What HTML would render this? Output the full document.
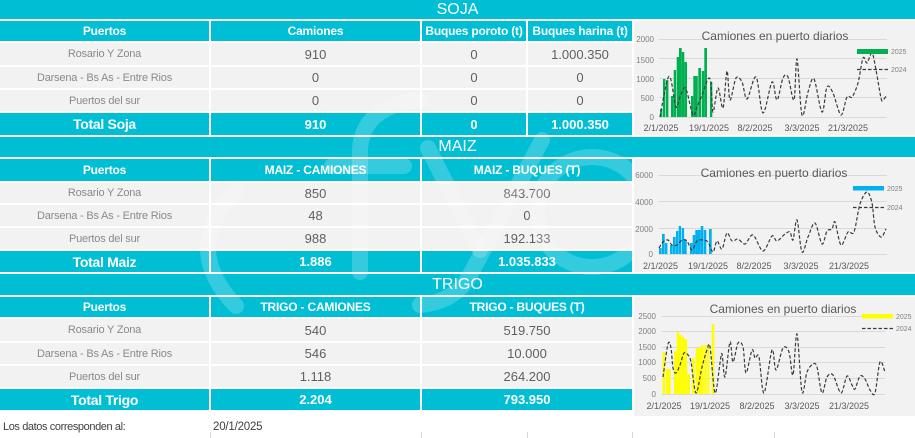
<!DOCTYPE html>
<html><head><meta charset="utf-8">
<style>
*{margin:0;padding:0;box-sizing:border-box}
body{width:915px;height:438px;background:#fff;overflow:hidden}
#p{position:relative;width:915px;height:438px;background:#fff;overflow:hidden;font-family:"Liberation Sans",Arial,sans-serif}
.c{position:absolute;display:flex;align-items:center;justify-content:center;white-space:nowrap}
.t{background:#00bfd5;color:#fff;font-size:16px;left:0;width:915px}
.h{background:#00bfd5;color:#fff;font-size:12px;font-weight:bold;letter-spacing:-0.2px}
.g{background:#f2f2f2;color:#8a8a8a;font-size:11px;letter-spacing:-0.2px}
.n{background:#f2f2f2;color:#5f5f5f;font-size:13px}
.tt{background:#00bfd5;color:#fff;font-size:14px;font-weight:bold;letter-spacing:-0.3px}
.tn{background:#00bfd5;color:#fff;font-size:13px;font-weight:bold}
svg{position:absolute;left:0;top:0}
</style></head><body>
<div id="p">
<!-- SOJA -->
<div class="c t" style="top:0;height:19px">SOJA</div>
<div class="c h" style="top:21px;height:20px;left:0;width:209px">Puertos</div>
<div class="c h" style="top:21px;height:20px;left:211px;width:209px">Camiones</div>
<div class="c h" style="top:21px;height:20px;left:422px;width:104px">Buques poroto (t)</div>
<div class="c h" style="top:21px;height:20px;left:528px;width:104px">Buques harina (t)</div>

<div class="c g" style="top:43px;height:22px;left:0;width:209px">Rosario Y Zona</div>
<div class="c n" style="top:43px;height:22px;left:211px;width:209px">910</div>
<div class="c n" style="top:43px;height:22px;left:422px;width:104px">0</div>
<div class="c n" style="top:43px;height:22px;left:528px;width:104px">1.000.350</div>

<div class="c g" style="top:67px;height:21px;left:0;width:209px">Darsena - Bs As - Entre Rios</div>
<div class="c n" style="top:67px;height:21px;left:211px;width:209px">0</div>
<div class="c n" style="top:67px;height:21px;left:422px;width:104px">0</div>
<div class="c n" style="top:67px;height:21px;left:528px;width:104px">0</div>

<div class="c g" style="top:90px;height:21px;left:0;width:209px">Puertos del sur</div>
<div class="c n" style="top:90px;height:21px;left:211px;width:209px">0</div>
<div class="c n" style="top:90px;height:21px;left:422px;width:104px">0</div>
<div class="c n" style="top:90px;height:21px;left:528px;width:104px">0</div>

<div class="c tt" style="top:113px;height:22px;left:0;width:209px">Total Soja</div>
<div class="c tn" style="top:113px;height:22px;left:211px;width:209px">910</div>
<div class="c tn" style="top:113px;height:22px;left:422px;width:104px">0</div>
<div class="c tn" style="top:113px;height:22px;left:528px;width:104px">1.000.350</div>

<!-- MAIZ -->
<div class="c t" style="top:137px;height:20px">MAIZ</div>
<div class="c h" style="top:159px;height:22px;left:0;width:209px">Puertos</div>
<div class="c h" style="top:159px;height:22px;left:211px;width:209px">MAIZ - CAMIONES</div>
<div class="c h" style="top:159px;height:22px;left:422px;width:210px">MAIZ - BUQUES (T)</div>

<div class="c g" style="top:183px;height:20px;left:0;width:209px">Rosario Y Zona</div>
<div class="c n" style="top:183px;height:20px;left:211px;width:209px">850</div>
<div class="c n" style="top:183px;height:20px;left:422px;width:210px">843.700</div>

<div class="c g" style="top:205px;height:21px;left:0;width:209px">Darsena - Bs As - Entre Rios</div>
<div class="c n" style="top:205px;height:21px;left:211px;width:209px">48</div>
<div class="c n" style="top:205px;height:21px;left:422px;width:210px">0</div>

<div class="c g" style="top:228px;height:21px;left:0;width:209px">Puertos del sur</div>
<div class="c n" style="top:228px;height:21px;left:211px;width:209px">988</div>
<div class="c n" style="top:228px;height:21px;left:422px;width:210px">192.133</div>

<div class="c tt" style="top:251px;height:21px;left:0;width:209px">Total Maiz</div>
<div class="c tn" style="top:251px;height:21px;left:211px;width:209px">1.886</div>
<div class="c tn" style="top:251px;height:21px;left:422px;width:210px">1.035.833</div>

<!-- TRIGO -->
<div class="c t" style="top:274px;height:21px">TRIGO</div>
<div class="c h" style="top:297px;height:20px;left:0;width:209px">Puertos</div>
<div class="c h" style="top:297px;height:20px;left:211px;width:209px">TRIGO - CAMIONES</div>
<div class="c h" style="top:297px;height:20px;left:422px;width:210px">TRIGO - BUQUES (T)</div>

<div class="c g" style="top:319px;height:22px;left:0;width:209px">Rosario Y Zona</div>
<div class="c n" style="top:319px;height:22px;left:211px;width:209px">540</div>
<div class="c n" style="top:319px;height:22px;left:422px;width:210px">519.750</div>

<div class="c g" style="top:343px;height:21px;left:0;width:209px">Darsena - Bs As - Entre Rios</div>
<div class="c n" style="top:343px;height:21px;left:211px;width:209px">546</div>
<div class="c n" style="top:343px;height:21px;left:422px;width:210px">10.000</div>

<div class="c g" style="top:366px;height:21px;left:0;width:209px">Puertos del sur</div>
<div class="c n" style="top:366px;height:21px;left:211px;width:209px">1.118</div>
<div class="c n" style="top:366px;height:21px;left:422px;width:210px">264.200</div>

<div class="c tt" style="top:389px;height:21px;left:0;width:209px">Total Trigo</div>
<div class="c tn" style="top:389px;height:21px;left:211px;width:209px">2.204</div>
<div class="c tn" style="top:389px;height:21px;left:422px;width:210px">793.950</div>

<div class="c" style="top:418px;height:18px;left:3px;justify-content:flex-start;font-size:11px;color:#404040;letter-spacing:-0.4px">Los datos corresponden al:</div>
<div class="c" style="top:418px;height:18px;left:213px;justify-content:flex-start;font-size:11.5px;color:#404040;letter-spacing:-0.2px">20/1/2025</div>

<svg width="915" height="438" viewBox="0 0 915 438" xmlns="http://www.w3.org/2000/svg" font-family="Liberation Sans, Arial, sans-serif">
  <defs>
    <clipPath id="wm"><rect x="0" y="0" width="632" height="411"/></clipPath>
  </defs>
  <!-- watermark -->
  <g clip-path="url(#wm)" fill="none" stroke="#fff" stroke-opacity="0.2" stroke-width="16" stroke-linecap="round">
    <path d="M236 190 Q180 248 236 306"/>
    <path d="M360 272 L360 150 Q362 106 420 100"/>
    <path d="M332 166 L404 166"/>
    <path d="M428 148 L480 250"/>
    <path d="M542 140 L470 275 Q455 302 420 305"/>
    <circle cx="592" cy="212" r="55"/>
  </g>

  <!-- bottom faint grid marks -->
  <g stroke="#d8d8d8" stroke-width="1">
    <line x1="210.5" y1="432" x2="210.5" y2="438"/>
    <line x1="421.5" y1="432" x2="421.5" y2="438"/>
    <line x1="527.5" y1="432" x2="527.5" y2="438"/>
    <line x1="632.5" y1="432" x2="632.5" y2="438"/>
    <line x1="774.5" y1="432" x2="774.5" y2="438"/>
  </g>

  <!-- ===== SOJA CHART ===== -->
  <rect x="634" y="21" width="281" height="114" fill="#f2f2f2"/>
  <g stroke="#d9d9d9" stroke-width="1">
    <line x1="659" y1="39.5" x2="887" y2="39.5"/>
    <line x1="659" y1="58.5" x2="887" y2="58.5"/>
    <line x1="659" y1="78.5" x2="887" y2="78.5"/>
    <line x1="659" y1="97.5" x2="887" y2="97.5"/>
    <line x1="659" y1="117.5" x2="887" y2="117.5"/>
  </g>
  <text x="775" y="40" font-size="12" fill="#595959" text-anchor="middle">Camiones en puerto diarios</text>
  <g font-size="8" fill="#808080" text-anchor="end">
    <text x="654" y="42">2000</text>
    <text x="654" y="63">1500</text>
    <text x="654" y="82">1000</text>
    <text x="654" y="101">500</text>
    <text x="654" y="120">0</text>
  </g>
  <g font-size="9" fill="#595959" text-anchor="middle">
    <text x="661" y="131">2/1/2025</text>
    <text x="709" y="131">19/1/2025</text>
    <text x="755" y="131">8/2/2025</text>
    <text x="802" y="131">3/3/2025</text>
    <text x="848" y="131">21/3/2025</text>
  </g>
  <g fill="#00b050">
    <rect x="660" y="109" width="2.4" height="8"/>
    <rect x="663" y="79" width="2.4" height="38"/>
    <rect x="666" y="80" width="2.4" height="37"/>
    <rect x="671" y="96" width="2.7" height="21"/>
    <rect x="673.7" y="70" width="2.4" height="47"/>
    <rect x="676.7" y="57" width="2.4" height="60"/>
    <rect x="679" y="48" width="2.7" height="69"/>
    <rect x="681.7" y="52" width="2.6" height="65"/>
    <rect x="684.3" y="62" width="2.7" height="55"/>
    <rect x="691" y="96" width="2.3" height="21"/>
    <rect x="693.3" y="76" width="4.5" height="41"/>
    <rect x="698.3" y="68" width="2.7" height="49"/>
    <rect x="701.7" y="71" width="2.6" height="46"/>
    <rect x="704.3" y="48" width="2.7" height="69"/>
    <rect x="710" y="82" width="2.3" height="35"/>
  </g>
  <path class="ln" data-p="660,117 664,95 668,78 671,80 676,107 680,97 684,88 687,92 693,115 697,107 702,95 708,79 711,83 713,112 718,88 723,108 727,71 730,100 736,78 742,82 747,99 756,77 763,113 772,82 777,100 783,78 788,77 794,100 797,59 802,115 808,92 814,79 822,112 827,87 833,93 841,115 847,97 852,97 858,83 863,58 867,63 872,53 876,70 881,98 883,100 887,95" fill="none" stroke="#3a3a3a" stroke-width="1.2" stroke-dasharray="3.5 2"/>
  <rect x="857" y="49" width="31" height="5" fill="#00b050"/>
  <line x1="857" y1="69.5" x2="888" y2="69.5" stroke="#3a3a3a" stroke-width="1.2" stroke-dasharray="3.5 2"/>
  <g font-size="7" fill="#808080">
    <text x="891" y="54">2025</text>
    <text x="891" y="72">2024</text>
  </g>

  <!-- ===== MAIZ CHART ===== -->
  <rect x="634" y="159" width="281" height="113" fill="#f2f2f2"/>
  <g stroke="#d9d9d9" stroke-width="1">
    <line x1="659" y1="175.5" x2="887" y2="175.5"/>
    <line x1="659" y1="201.5" x2="887" y2="201.5"/>
    <line x1="659" y1="228.5" x2="887" y2="228.5"/>
    <line x1="659" y1="254.5" x2="887" y2="254.5"/>
  </g>
  <text x="774" y="177" font-size="12" fill="#595959" text-anchor="middle">Camiones en puerto diarios</text>
  <g font-size="8" fill="#808080" text-anchor="end">
    <text x="653" y="178">6000</text>
    <text x="653" y="205">4000</text>
    <text x="653" y="232">2000</text>
    <text x="653" y="257">0</text>
  </g>
  <g font-size="9" fill="#595959" text-anchor="middle">
    <text x="660.5" y="269">2/1/2025</text>
    <text x="708" y="269">19/1/2025</text>
    <text x="754" y="269">8/2/2025</text>
    <text x="801" y="269">3/3/2025</text>
    <text x="849" y="269">21/3/2025</text>
  </g>
  <g fill="#00b0f0">
    <rect x="659" y="248" width="2.7" height="6"/>
    <rect x="662" y="234" width="2.7" height="20"/>
    <rect x="665" y="243" width="2.4" height="11"/>
    <rect x="670" y="245" width="2.7" height="9"/>
    <rect x="673" y="237" width="2.7" height="17"/>
    <rect x="676" y="231" width="2.4" height="23"/>
    <rect x="678.7" y="226" width="2.4" height="28"/>
    <rect x="681.7" y="228" width="2.4" height="26"/>
    <rect x="684" y="240" width="2.7" height="14"/>
    <rect x="690" y="243" width="2.7" height="11"/>
    <rect x="692.7" y="235" width="2.6" height="19"/>
    <rect x="695.3" y="230" width="5.4" height="24"/>
    <rect x="700.7" y="226" width="2.6" height="28"/>
    <rect x="703.7" y="230" width="2.6" height="24"/>
    <rect x="709" y="229" width="2.7" height="25"/>
  </g>
  <path class="ln" data-p="659,248 663,242 668,240 672,245 677,245 682,240 687,241 692,250 697,241 703,240 708,242 713,252 717,241 722,249 727,233 732,241 738,239 745,244 753,235 763,251 772,236 777,241 785,234 790,232 793,240 797,220 802,252 808,237 815,223 822,244 827,231 832,229 835,222 841,245 848,232 854,232 860,204 867,192 872,203 875,227 881,237 886,229" fill="none" stroke="#3a3a3a" stroke-width="1.2" stroke-dasharray="3.5 2"/>
  <rect x="853" y="186" width="31" height="4.5" fill="#00b0f0"/>
  <line x1="853" y1="207.5" x2="884" y2="207.5" stroke="#3a3a3a" stroke-width="1.2" stroke-dasharray="3.5 2"/>
  <g font-size="7" fill="#808080">
    <text x="887" y="191">2025</text>
    <text x="887" y="210">2024</text>
  </g>

  <!-- ===== TRIGO CHART ===== -->
  <rect x="634" y="297" width="281" height="119" fill="#f2f2f2"/>
  <g stroke="#d9d9d9" stroke-width="1">
    <line x1="662" y1="316.5" x2="885" y2="316.5"/>
    <line x1="662" y1="331.5" x2="885" y2="331.5"/>
    <line x1="662" y1="347.5" x2="885" y2="347.5"/>
    <line x1="662" y1="362.5" x2="885" y2="362.5"/>
    <line x1="662" y1="378.5" x2="885" y2="378.5"/>
    <line x1="662" y1="394.5" x2="885" y2="394.5"/>
  </g>
  <text x="783" y="313" font-size="12" fill="#595959" text-anchor="middle">Camiones en puerto diarios</text>
  <g font-size="8" fill="#808080" text-anchor="end">
    <text x="656" y="319">2500</text>
    <text x="656" y="334">2000</text>
    <text x="656" y="350">1500</text>
    <text x="656" y="365">1000</text>
    <text x="656" y="381">500</text>
    <text x="656" y="397">0</text>
  </g>
  <g font-size="9" fill="#595959" text-anchor="middle">
    <text x="664" y="409">2/1/2025</text>
    <text x="710" y="409">19/1/2025</text>
    <text x="757" y="409">8/2/2025</text>
    <text x="802" y="409">3/3/2025</text>
    <text x="849" y="409">21/3/2025</text>
  </g>
  <g fill="#ffff00">
    <rect x="662.5" y="352" width="2.6" height="42"/>
    <rect x="666" y="369" width="4.7" height="25"/>
    <rect x="674" y="351" width="2.7" height="43"/>
    <rect x="676.7" y="332" width="2.4" height="62"/>
    <rect x="679" y="335" width="2.7" height="59"/>
    <rect x="681.7" y="337" width="2.6" height="57"/>
    <rect x="684.3" y="339" width="2.9" height="55"/>
    <rect x="687.3" y="374" width="2.7" height="20"/>
    <rect x="692" y="358" width="2.6" height="36"/>
    <rect x="695.7" y="348" width="5.3" height="46"/>
    <rect x="701" y="345" width="2.7" height="49"/>
    <rect x="704.3" y="345" width="2.4" height="49"/>
    <rect x="707.3" y="347" width="2.1" height="47"/>
    <rect x="711.7" y="324" width="2.6" height="70"/>
  </g>
  <path class="ln" data-p="663,377 668,344 671,348 673,368 676,373 680,365 684,353 688,355 691,362 696,393 702,367 707,350 710,347 715,393 720,363 722,354 725,377 730,342 733,362 738,343 743,347 746,373 752,350 755,358 759,357 764,393 772,350 776,370 783,348 789,352 793,375 797,334 802,392 807,372 813,364 817,367 822,393 827,377 833,375 841,393 847,376 852,385 855,389 860,376 865,379 870,390 875,393 880,362 885,372" fill="none" stroke="#3a3a3a" stroke-width="1.2" stroke-dasharray="3.5 2"/>
  <rect x="862" y="314" width="31" height="4.5" fill="#ffff00"/>
  <line x1="862" y1="328.5" x2="893" y2="328.5" stroke="#3a3a3a" stroke-width="1.2" stroke-dasharray="3.5 2"/>
  <g font-size="7" fill="#808080">
    <text x="896" y="319">2025</text>
    <text x="896" y="331">2024</text>
  </g>
</svg>
</div>
<script>
(function(){
  var paths=document.querySelectorAll('path.ln');
  for(var k=0;k<paths.length;k++){
    var el=paths[k];
    var pts=el.getAttribute('data-p').trim().split(/\s+/).map(function(s){var a=s.split(',');return [parseFloat(a[0]),parseFloat(a[1])];});
    var d='M'+pts[0][0]+' '+pts[0][1];
    for(var i=0;i<pts.length-1;i++){
      var p0=pts[i>0?i-1:i],p1=pts[i],p2=pts[i+1],p3=pts[i+2<pts.length?i+2:i+1];
      var t=0.16;
      var c1x=p1[0]+(p2[0]-p0[0])*t,c1y=p1[1]+(p2[1]-p0[1])*t;
      var c2x=p2[0]-(p3[0]-p1[0])*t,c2y=p2[1]-(p3[1]-p1[1])*t;
      d+=' C'+c1x.toFixed(1)+' '+c1y.toFixed(1)+' '+c2x.toFixed(1)+' '+c2y.toFixed(1)+' '+p2[0]+' '+p2[1];
    }
    el.setAttribute('d',d);
  }
})();
</script>
</body></html>
